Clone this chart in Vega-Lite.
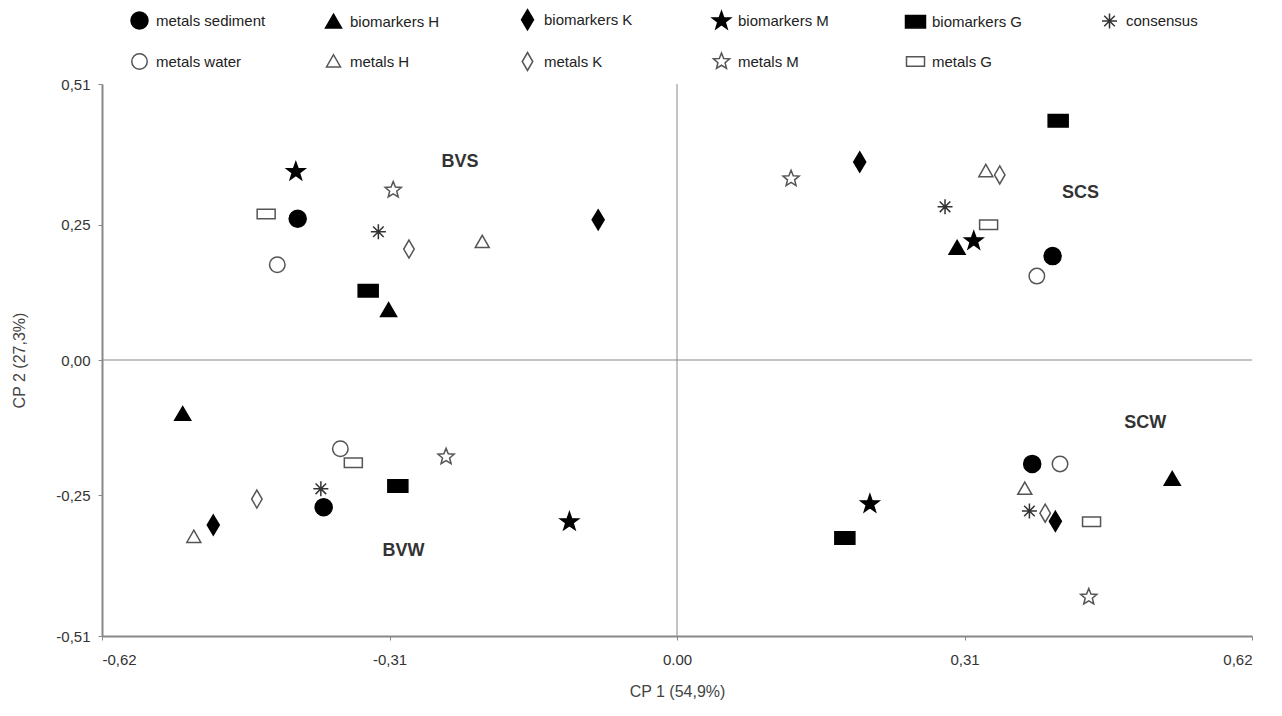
{
  "$schema": "https://vega.github.io/schema/vega-lite/v6.json",
  "width": 1150,
  "height": 552,
  "autosize": {"type": "none"},
  "padding": {"left": 102, "top": 84, "right": 30, "bottom": 80},
  "background": "white",
  "config": {
    "view": {"stroke": null},
    "font": "Liberation Sans",
    "axis": {"grid": false, "domainColor": "#888", "domainWidth": 2, "tickColor": "#888", "tickSize": 4, "labelFontSize": 15, "labelColor": "#333", "titleFontSize": 16, "titleFontWeight": "normal", "titleColor": "#444"}
  },
  "datasets": {
    "points": [
      {"series": "biomarkers M", "x": -0.411, "y": 0.348},
      {"series": "metals G", "x": -0.443, "y": 0.270},
      {"series": "metals sediment", "x": -0.409, "y": 0.261},
      {"series": "metals water", "x": -0.431, "y": 0.176},
      {"series": "metals M", "x": -0.306, "y": 0.314},
      {"series": "consensus", "x": -0.322, "y": 0.237},
      {"series": "metals K", "x": -0.289, "y": 0.205},
      {"series": "metals H", "x": -0.210, "y": 0.218},
      {"series": "biomarkers K", "x": -0.085, "y": 0.259},
      {"series": "biomarkers G", "x": -0.333, "y": 0.128},
      {"series": "biomarkers H", "x": -0.311, "y": 0.092},

      {"series": "biomarkers G", "x": 0.411, "y": 0.442},
      {"series": "biomarkers K", "x": 0.197, "y": 0.366},
      {"series": "metals M", "x": 0.123, "y": 0.335},
      {"series": "metals H", "x": 0.333, "y": 0.349},
      {"series": "metals K", "x": 0.348, "y": 0.342},
      {"series": "consensus", "x": 0.289, "y": 0.283},
      {"series": "metals G", "x": 0.336, "y": 0.250},
      {"series": "biomarkers M", "x": 0.320, "y": 0.220},
      {"series": "biomarkers H", "x": 0.302, "y": 0.207},
      {"series": "metals sediment", "x": 0.405, "y": 0.192},
      {"series": "metals water", "x": 0.388, "y": 0.155},

      {"series": "biomarkers H", "x": -0.533, "y": -0.100},
      {"series": "metals water", "x": -0.363, "y": -0.164},
      {"series": "metals G", "x": -0.349, "y": -0.190},
      {"series": "metals M", "x": -0.249, "y": -0.179},
      {"series": "consensus", "x": -0.384, "y": -0.238},
      {"series": "metals sediment", "x": -0.381, "y": -0.272},
      {"series": "biomarkers G", "x": -0.301, "y": -0.233},
      {"series": "metals K", "x": -0.453, "y": -0.257},
      {"series": "biomarkers K", "x": -0.500, "y": -0.305},
      {"series": "metals H", "x": -0.521, "y": -0.327},
      {"series": "biomarkers M", "x": -0.116, "y": -0.299},

      {"series": "metals sediment", "x": 0.383, "y": -0.192},
      {"series": "metals water", "x": 0.413, "y": -0.192},
      {"series": "biomarkers H", "x": 0.534, "y": -0.220},
      {"series": "metals H", "x": 0.375, "y": -0.238},
      {"series": "consensus", "x": 0.380, "y": -0.279},
      {"series": "metals K", "x": 0.397, "y": -0.283},
      {"series": "biomarkers K", "x": 0.408, "y": -0.298},
      {"series": "metals G", "x": 0.447, "y": -0.299},
      {"series": "biomarkers M", "x": 0.208, "y": -0.266},
      {"series": "biomarkers G", "x": 0.181, "y": -0.329},
      {"series": "metals M", "x": 0.444, "y": -0.438}
    ],
    "clusters": [
      {"name": "BVS", "x": -0.234, "y": 0.366},
      {"name": "SCS", "x": 0.435, "y": 0.309},
      {"name": "BVW", "x": -0.295, "y": -0.353},
      {"name": "SCW", "x": 0.505, "y": -0.116}
    ],
    "zero": [{"v": 0}]
  },
  "layer": [
    {
      "data": {"name": "zero"},
      "mark": {"type": "rule", "color": "#888", "strokeWidth": 1},
      "encoding": {"x": {"field": "v", "type": "quantitative", "scale": {"domain": [-0.62, 0.62]}}}
    },
    {
      "data": {"name": "zero"},
      "mark": {"type": "rule", "color": "#888", "strokeWidth": 1},
      "encoding": {"y": {"field": "v", "type": "quantitative", "scale": {"domain": [-0.51, 0.51]}}}
    },
    {
      "data": {"name": "clusters"},
      "mark": {"type": "text", "fontSize": 18, "fontWeight": "bold", "color": "#333"},
      "encoding": {
        "x": {"field": "x", "type": "quantitative"},
        "y": {"field": "y", "type": "quantitative"},
        "text": {"field": "name"}
      }
    },
    {
      "data": {"name": "points"},
      "mark": {"type": "point", "filled": false, "strokeWidth": 1.5, "opacity": 1, "size": 100},
      "encoding": {
        "x": {"field": "x", "type": "quantitative", "scale": {"domain": [-0.62, 0.62], "nice": false, "zero": false},
          "axis": {"values": [-0.62, -0.31, 0, 0.31, 0.62], "title": "CP 1 (54,9%)", "titlePadding": 16, "labelPadding": 12,
            "labelExpr": "datum.value == 0 ? '0.00' : (datum.value < 0 ? '-' : '') + replace(format(abs(datum.value), '.2f'), '.', ',')"}},
        "y": {"field": "y", "type": "quantitative", "scale": {"domain": [-0.51, 0.51], "nice": false, "zero": false},
          "axis": {"values": [-0.51, -0.25, 0, 0.25, 0.51], "title": "CP 2 (27,3%)", "titlePadding": 28, "labelPadding": 8,
            "labelExpr": "(datum.value < 0 ? '-' : '') + replace(format(abs(datum.value), '.2f'), '.', ',')"}},
        "shape": {
          "field": "series", "type": "nominal",
          "scale": {
            "domain": ["metals sediment", "biomarkers H", "biomarkers K", "biomarkers M", "biomarkers G", "consensus", "metals water", "metals H", "metals K", "metals M", "metals G"],
            "range": [
              "M-1.7,0A1.7,1.7,0,1,1,1.7,0A1.7,1.7,0,1,1,-1.7,0Z",
              "M0,-1.5L1.6,1.25L-1.6,1.25Z",
              "M0,-2L1.2,0L0,2L-1.2,0Z",
              "M0,-1.9L0.447,-0.616L1.807,-0.587L0.723,0.235L1.117,1.537L0,0.76L-1.117,1.537L-0.723,0.235L-1.807,-0.587L-0.447,-0.616Z",
              "M-2,-1.25H2V1.25H-2Z",
              "M-1.5,0H1.5M0,-1.5V1.5M-1.06,-1.06L1.06,1.06M-1.06,1.06L1.06,-1.06",
              "M-1.55,0A1.55,1.55,0,1,1,1.55,0A1.55,1.55,0,1,1,-1.55,0Z",
              "M0,-1.35L1.4,1.1L-1.4,1.1Z",
              "M0,-1.8L1.05,0L0,1.8L-1.05,0Z",
              "M0,-1.7L0.44,-0.605L1.617,-0.525L0.711,0.231L1.0,1.375L0,0.748L-1.0,1.375L-0.711,0.231L-1.617,-0.525L-0.44,-0.605Z",
              "M-1.8,-0.95H1.8V0.95H-1.8Z"
            ]
          },
          "legend": {
            "title": null, "orient": "none", "legendX": 30, "legendY": -72, "direction": "horizontal", "columns": 6,
            "columnPadding": 54, "rowPadding": 16, "labelFontSize": 15, "labelColor": "#222", "symbolStrokeWidth": 1.5,
            "symbolSize": 100, "labelOffset": 9, "gridAlign": "all"
          }
        },
        "fill": {
          "field": "series", "type": "nominal",
          "scale": {
            "domain": ["metals sediment", "biomarkers H", "biomarkers K", "biomarkers M", "biomarkers G", "consensus", "metals water", "metals H", "metals K", "metals M", "metals G"],
            "range": ["#000", "#000", "#000", "#000", "#000", "transparent", "white", "white", "white", "white", "white"]
          }
        },
        "stroke": {
          "field": "series", "type": "nominal",
          "scale": {
            "domain": ["metals sediment", "biomarkers H", "biomarkers K", "biomarkers M", "biomarkers G", "consensus", "metals water", "metals H", "metals K", "metals M", "metals G"],
            "range": ["#000", "#000", "#000", "#000", "#000", "#333", "#555", "#555", "#555", "#555", "#555"]
          }
        }
      }
    }
  ]
}
